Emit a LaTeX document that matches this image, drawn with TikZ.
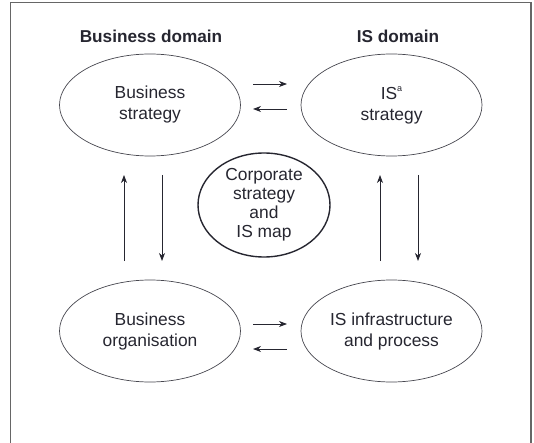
\documentclass[tikz,border=0pt]{standalone}
\usepackage{fontspec}
\setmainfont{Liberation Sans}
\usepackage{xcolor}
\usetikzlibrary{shapes.geometric, arrows.meta, positioning}
\definecolor{inkcol}{RGB}{38,38,48}

\begin{document}
\begin{tikzpicture}[x=1pt, y=-1pt,
  dom/.style={ellipse, draw=inkcol!85, line width=0.7pt, minimum width=181pt, minimum height=102pt, inner sep=0pt, align=center, text=inkcol, font=\fontsize{17.4}{21}\selectfont},
  mapnode/.style={dom, draw=inkcol, line width=1.4pt, minimum width=132pt, minimum height=104pt, inner sep=-6pt, font=\fontsize{17.4}{19}\selectfont},
  title/.style={text=inkcol, font=\fontsize{17.2}{21}\selectfont\bfseries},
  flow/.style={-{Stealth[length=8pt,width=6pt,inset=2.5pt]}, line width=0.8pt, draw=inkcol}]

% Tamanho da figura
\useasboundingbox (0,0) rectangle (534,443);

% Moldura
\draw[line width=1.5pt, black!60] (10.5,443) -- (10.5,2.7) -- (531,2.7) -- (531,443);

% Titulos dos dominios
\node[title] (bdom) at (151,36) {Business domain};
\node[title] (isdom) at (398,36) {IS domain};

% Elipses
\node[dom] (bstrat) at (150,105) {Business\\strategy};
\node[dom] (isstrat) at (391.5,105) {IS\raisebox{0.85ex}{\fontsize{9}{9}\selectfont a}\\strategy};
\node[dom] (borg) at (150,331) {Business\\organisation};
\node[dom] (isinfra) at (391.5,331) {IS infrastructure\\and process};

% Mapa central
\node[mapnode] (csmap) at (264,205) {Corporate\\strategy\\and\\IS map};

% Pontas das setas horizontais
\coordinate (tA) at (253,84);  \coordinate (tB) at (287,84);
\coordinate (tC) at (253,109); \coordinate (tD) at (287,109);
\coordinate (bA) at (253,324); \coordinate (bB) at (287,324);
\coordinate (bC) at (253,349); \coordinate (bD) at (287,349);

% Setas horizontais
\draw[flow] (tA) -- (tB);
\draw[flow] (tD) -- (tC);
\draw[flow] (bA) -- (bB);
\draw[flow] (bD) -- (bC);

% Pontas das setas verticais
\coordinate (lA) at (124,261); \coordinate (lB) at (124,175);
\coordinate (lC) at (162,175); \coordinate (lD) at (162,261);
\coordinate (rA) at (380,261); \coordinate (rB) at (380,175);
\coordinate (rC) at (418,175); \coordinate (rD) at (418,261);

% Setas verticais
\draw[flow] (lA) -- (lB);
\draw[flow] (lC) -- (lD);
\draw[flow] (rA) -- (rB);
\draw[flow] (rC) -- (rD);

\end{tikzpicture}
\end{document}
